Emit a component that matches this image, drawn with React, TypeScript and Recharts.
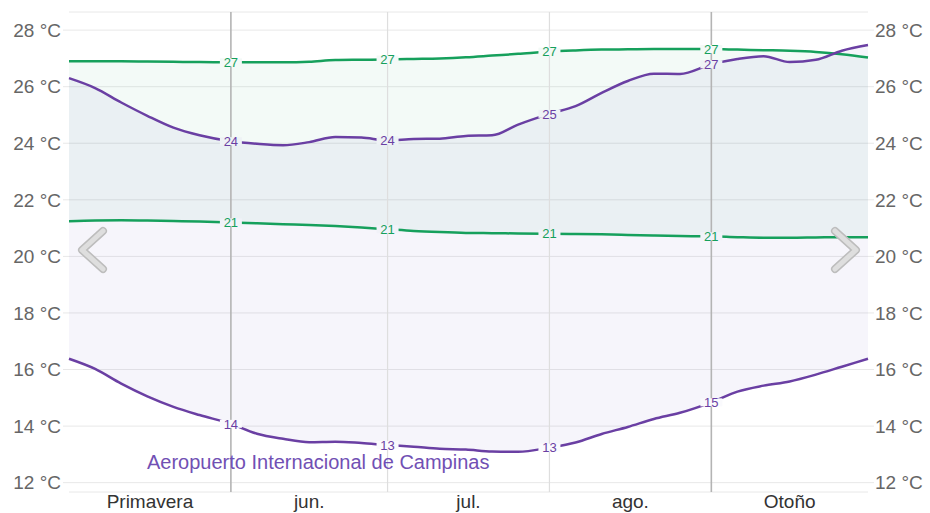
import React from 'react'
import {
  ComposedChart, Line, Area, XAxis, YAxis,
  CartesianGrid, ReferenceLine
} from 'recharts'

// day 0 = 1 May, day 153 = 1 Oct
const days = [0, 5, 10, 15, 20, 25, 31, 36, 41, 46, 51, 56, 61, 66, 71, 76, 81, 86, 92, 97, 102, 107, 112, 117, 123, 128, 133, 138, 143, 148, 153]

const greenHigh = [26.9, 26.9, 26.9, 26.89, 26.88, 26.87, 26.86, 26.86, 26.86, 26.88, 26.94, 26.95, 26.96, 26.98, 27.0, 27.04, 27.1, 27.16, 27.24, 27.28, 27.31, 27.32, 27.33, 27.33, 27.33, 27.31, 27.29, 27.27, 27.23, 27.15, 27.03]
const greenLow = [21.24, 21.27, 21.28, 21.27, 21.25, 21.23, 21.2, 21.17, 21.14, 21.11, 21.07, 21.02, 20.96, 20.9, 20.86, 20.83, 20.82, 20.81, 20.8, 20.79, 20.78, 20.76, 20.74, 20.72, 20.71, 20.68, 20.66, 20.66, 20.67, 20.68, 20.68]
const campinasHigh = [26.3, 25.95, 25.44, 24.97, 24.55, 24.28, 24.07, 23.98, 23.93, 24.04, 24.22, 24.2, 24.1, 24.15, 24.16, 24.26, 24.28, 24.66, 25.04, 25.31, 25.78, 26.2, 26.46, 26.45, 26.79, 26.98, 27.08, 26.87, 26.95, 27.27, 27.47]
const campinasLow = [16.38, 16.02, 15.5, 15.05, 14.68, 14.39, 14.08, 13.73, 13.55, 13.43, 13.45, 13.4, 13.33, 13.27, 13.2, 13.17, 13.1, 13.09, 13.24, 13.42, 13.72, 13.97, 14.25, 14.47, 14.84, 15.22, 15.43, 15.58, 15.82, 16.1, 16.38]

const monthStarts = [31, 61, 92, 123]
const seasonStarts = [31, 123]
const monthMids = [15.5, 46, 76.5, 107.5, 138]
const monthLabels = ['Primavera', 'jun.', 'jul.', 'ago.', 'Otoño']
const yTicks = [12, 14, 16, 18, 20, 22, 24, 26, 28]

const data = days.map((d, i) => ({
  day: d,
  greenHigh: greenHigh[i],
  greenLow: greenLow[i],
  campinasHigh: campinasHigh[i],
  campinasLow: campinasLow[i],
  greenBand: [greenLow[i], greenHigh[i]],
  campinasBand: [campinasLow[i], campinasHigh[i]],
}))

const GREEN = '#16a05c'
const PURPLE = '#6a3fa3'
const FONT = '"Liberation Sans", Arial, sans-serif'

const labelIdx = monthStarts.map(m => days.indexOf(m))

function lineLabel(color: string, bg: string) {
  return (props: any) => {
    const { x, y, value, index } = props
    if (!labelIdx.includes(index)) return null
    return (
      <g key={`l-${index}`}>
        <rect x={x - 11} y={y - 4} width={22} height={8} fill={bg} />
        <text x={x} y={y} dy="0.36em" textAnchor="middle" fontSize={13}
          fontFamily={FONT} fill={color}>
          {Math.round(value)}
        </text>
      </g>
    )
  }
}

export default function App() {
  return (
    <div style={{ position: 'absolute', left: 0, top: 0, width: 930, height: 513, background: '#fff', fontFamily: FONT }}>
      <ComposedChart width={930} height={513} data={data}
        margin={{ top: 12, right: 0, bottom: 0, left: 0 }}>
        <CartesianGrid yAxisId="left" horizontal vertical={false} stroke="#e8e8e8" />
        <XAxis dataKey="day" type="number" domain={[0, 153]} ticks={monthMids}
          tickFormatter={(v: number) => monthLabels[monthMids.indexOf(v)]}
          axisLine={false} tickLine={false} tickSize={0} tickMargin={3} height={21}
          interval={0}
          tick={{ fontSize: 19, fill: '#333', fontFamily: FONT }} />
        <YAxis yAxisId="left" orientation="left" width={69}
          domain={[11.67, 28.64]} ticks={yTicks} allowDataOverflow
          tickFormatter={(v: number) => `${v} °C`}
          axisLine={false} tickSize={6} tickMargin={2}
          tickLine={{ stroke: '#e8e8e8' }}
          tick={{ fontSize: 19, fill: '#666', fontFamily: FONT }} />
        <YAxis yAxisId="right" orientation="right" width={62}
          domain={[11.67, 28.64]} ticks={yTicks} allowDataOverflow
          tickFormatter={(v: number) => `${v} °C`}
          axisLine={false} tickSize={6} tickMargin={1}
          tickLine={{ stroke: '#e8e8e8' }}
          tick={{ fontSize: 19, fill: '#666', fontFamily: FONT }} />

        <Area yAxisId="left" dataKey="greenBand" type="monotone" stroke="none"
          fill="#0a9a64" fillOpacity={0.05} isAnimationActive={false} />
        <Area yAxisId="left" dataKey="campinasBand" type="monotone" stroke="none"
          fill="#4a36b4" fillOpacity={0.05} isAnimationActive={false} />

        <Line yAxisId="left" dataKey="greenHigh" type="monotone" stroke={GREEN} strokeWidth={2.5}
          dot={false} activeDot={false} isAnimationActive={false}
          label={lineLabel(GREEN, '#f3f9f7')} />
        <Line yAxisId="left" dataKey="greenLow" type="monotone" stroke={GREEN} strokeWidth={2.5}
          dot={false} activeDot={false} isAnimationActive={false}
          label={lineLabel(GREEN, '#f1f2f8')} />
        <Line yAxisId="left" dataKey="campinasHigh" type="monotone" stroke={PURPLE} strokeWidth={2.5}
          dot={false} activeDot={false} isAnimationActive={false}
          label={lineLabel(PURPLE, '#eef2f5')} />
        <Line yAxisId="left" dataKey="campinasLow" type="monotone" stroke={PURPLE} strokeWidth={2.5}
          dot={false} activeDot={false} isAnimationActive={false}
          label={lineLabel(PURPLE, '#fafafd')} />

        {monthStarts.map(m => (
          <ReferenceLine key={m} yAxisId="left" x={m}
            stroke={seasonStarts.includes(m) ? '#b4b4b4' : '#dedede'}
            strokeWidth={seasonStarts.includes(m) ? 1.6 : 1.2} />
        ))}
      </ComposedChart>

      <div style={{ position: 'absolute', left: 147, top: 451, fontSize: 20, color: '#7150b4', whiteSpace: 'nowrap', lineHeight: '22px' }}>
        Aeropuerto Internacional de Campinas
      </div>

      <svg width={930} height={513} style={{ position: 'absolute', left: 0, top: 0, pointerEvents: 'none' }}>
        <polyline points="103,231 82,250 103,269" fill="none" stroke="#bdbdbd" strokeWidth={8} strokeLinecap="round" strokeLinejoin="round" />
        <polyline points="103,231 82,250 103,269" fill="none" stroke="#dedede" strokeWidth={5} strokeLinecap="round" strokeLinejoin="round" />
        <polyline points="835,231 856,250 835,269" fill="none" stroke="#bdbdbd" strokeWidth={8} strokeLinecap="round" strokeLinejoin="round" />
        <polyline points="835,231 856,250 835,269" fill="none" stroke="#dedede" strokeWidth={5} strokeLinecap="round" strokeLinejoin="round" />
      </svg>
    </div>
  )
}
